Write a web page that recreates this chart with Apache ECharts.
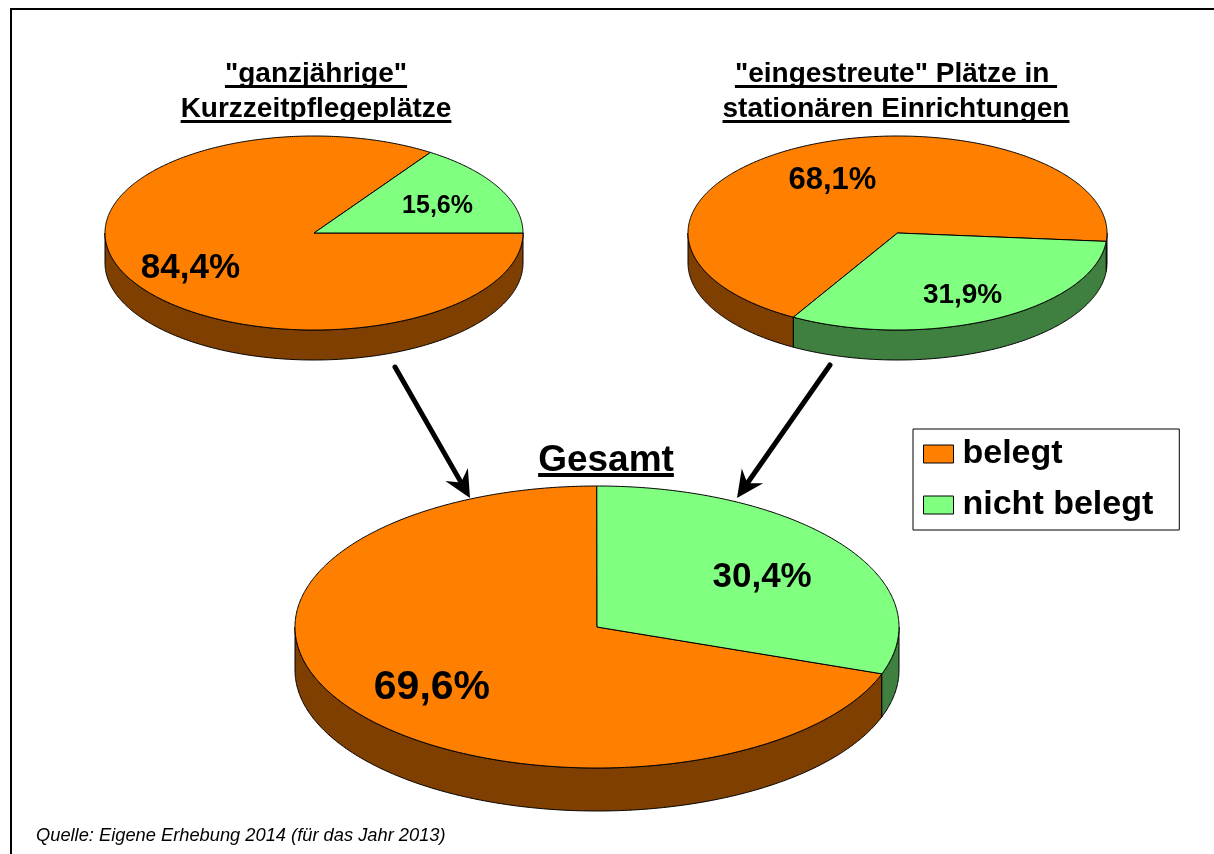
<!DOCTYPE html>
<html>
<head>
<meta charset="utf-8">
<title>Belegung Kurzzeitpflege</title>
<script src="https://cdn.jsdelivr.net/npm/echarts@6/dist/echarts.min.js"></script>
<style>
  html, body { margin: 0; padding: 0; background: #fff; }
  #chart { width: 1214px; height: 854px; }
</style>
</head>
<body>
<div id="chart"></div>
<script>
// data
const categories = ['belegt', 'nicht belegt'];
const pieNames = ['ganzjährige Kurzzeitpflegeplätze', 'eingestreute Plätze', 'Gesamt'];
const belegt = [84.4, 68.1, 69.6];
const nichtBelegt = [15.6, 31.9, 30.4];
const pieTitles = [
  ['"ganzjährige"', 'Kurzzeitpflegeplätze'],
  ['"eingestreute" Plätze in ', 'stationären Einrichtungen'],
  ['Gesamt']
];
const sourceText = 'Quelle: Eigene Erhebung 2014 (für das Jahr 2013)';

const FONT = '"Liberation Sans", Arial, sans-serif';
const seriesValues = [belegt, nichtBelegt];
const topColors = ['#FF8000', '#80FF80'];
const sideColors = ['#7F3F00', '#3F7F3F'];

// layout of the three tilted pies (start angle = first slice, drawn clockwise)
const pies = [
  { cx: 314, cy: 233, rx: 209, ry: 97, depth: 30, start: 0, fonts: [35, 25] },
  { cx: 897.5, cy: 233, rx: 209.5, ry: 97, depth: 30, start: 240.2, fonts: [31, 28] },
  { cx: 597, cy: 627, rx: 302, ry: 141, depth: 43, start: -19.4, fonts: [41, 35] }
];

function pt(p, t, dy) {
  const r = t * Math.PI / 180;
  return [p.cx + p.rx * Math.cos(r), p.cy - p.ry * Math.sin(r) + (dy || 0)];
}
function arc(p, a, b, dy) {
  const n = Math.max(2, Math.ceil(Math.abs(b - a) * 2));
  const out = [];
  for (let i = 0; i <= n; i++) out.push(pt(p, a + (b - a) * i / n, dy));
  return out;
}

function renderSlice(catIdx) {
  return function (params, api) {
    const pieIdx = params.dataIndex;
    const p = pies[pieIdx];
    let total = 0, before = 0;
    seriesValues.forEach((vals, c) => {
      total += vals[pieIdx];
      if (c < catIdx) before += vals[pieIdx];
    });
    const v = api.value(0);
    const a0 = p.start - 360 * before / total;
    const a1 = a0 - 360 * v / total;
    const children = [];
    // side wall, only the front half of the disc is visible
    for (let k = -2; k <= 2; k++) {
      const lo = Math.max(a1, -180 + 360 * k);
      const hi = Math.min(a0, 360 * k);
      if (hi - lo > 0.01) {
        const pts = arc(p, lo, hi, 0).concat(arc(p, hi, lo, p.depth));
        children.push({
          type: 'polygon',
          shape: { points: pts },
          style: { fill: sideColors[catIdx], stroke: '#000', lineWidth: 1 }
        });
      }
    }
    children.push({
      type: 'polygon',
      shape: { points: [[p.cx, p.cy]].concat(arc(p, a0, a1, 0)) },
      style: { fill: topColors[catIdx], stroke: '#000', lineWidth: 1, lineJoin: 'round' }
    });
    const mid = (a0 + a1) / 2 * Math.PI / 180;
    const fs = p.fonts[catIdx];
    children.push({
      type: 'text',
      z2: 10,
      x: p.cx + 0.67 * p.rx * Math.cos(mid),
      y: p.cy - 0.67 * p.ry * Math.sin(mid) + 0.15 * fs,
      style: {
        text: v.toFixed(1).replace('.', ',') + '%',
        fontFamily: FONT,
        fontWeight: 'bold',
        fontSize: fs,
        fill: '#000',
        align: 'center',
        verticalAlign: 'middle'
      }
    });
    return { type: 'group', children: children };
  };
}

// measure text so the underlines fit
const measureCtx = document.createElement('canvas').getContext('2d');
function textWidth(str, size, style) {
  measureCtx.font = (style || 'bold') + ' ' + size + 'px ' + FONT;
  return measureCtx.measureText(str).width;
}

const titleLayout = [
  { cx: 316, baselines: [80, 115], size: 28, thick: 3 },
  { cx: 896, baselines: [80, 115], size: 28, thick: 3 },
  { cx: 606, baselines: [468], size: 37, thick: 4 }
];

const graphics = [];
// frame (only top and left edge are inside the picture)
graphics.push({
  type: 'rect',
  shape: { x: 11, y: 9, width: 1300, height: 900 },
  style: { fill: null, stroke: '#000', lineWidth: 2 }
});

titleLayout.forEach((t, i) => {
  pieTitles[i].forEach((line, j) => {
    const base = t.baselines[j];
    const w = textWidth(line, t.size);
    graphics.push({
      type: 'text',
      x: t.cx,
      y: base - 0.2 * t.size,
      style: {
        text: line, fontFamily: FONT, fontWeight: 'bold', fontSize: t.size,
        fill: '#000', align: 'center', verticalAlign: 'middle'
      }
    });
    graphics.push({
      type: 'rect',
      shape: { x: t.cx - w / 2, y: base + 5, width: w, height: t.thick },
      style: { fill: '#000' }
    });
  });
});

// arrows from the two small pies to the total
const arrows = [
  { from: [395, 367], to: [470, 498] },
  { from: [830, 365], to: [737, 498] }
];
arrows.forEach(a => {
  const dx = a.to[0] - a.from[0], dy = a.to[1] - a.from[1];
  const len = Math.sqrt(dx * dx + dy * dy);
  const ux = dx / len, uy = dy / len, nx = -uy, ny = ux;
  const L = 27, W = 13, notch = 18;
  const T = a.to;
  const neck = [T[0] - notch * ux, T[1] - notch * uy];
  graphics.push({
    type: 'line',
    shape: { x1: a.from[0], y1: a.from[1], x2: neck[0], y2: neck[1] },
    style: { stroke: '#000', lineWidth: 5, lineCap: 'round' }
  });
  graphics.push({
    type: 'polygon',
    shape: {
      points: [
        T,
        [T[0] - L * ux + W * nx, T[1] - L * uy + W * ny],
        neck,
        [T[0] - L * ux - W * nx, T[1] - L * uy - W * ny]
      ]
    },
    style: { fill: '#000' }
  });
});

graphics.push({
  type: 'text',
  x: 36,
  y: 836,
  style: {
    text: sourceText, fontFamily: FONT, fontStyle: 'italic', fontSize: 18.3,
    fill: '#000', align: 'left', verticalAlign: 'middle'
  }
});

const chart = echarts.init(document.getElementById('chart'), null, { renderer: 'canvas' });
chart.setOption({
  animation: false,
  backgroundColor: '#fff',
  legend: {
    data: categories,
    orient: 'vertical',
    left: 913,
    top: 429,
    padding: [3, 26, 3, 10],
    itemGap: 7,
    itemWidth: 30,
    itemHeight: 18,
    icon: 'rect',
    borderColor: '#000',
    borderWidth: 1,
    selectedMode: false,
    itemStyle: { borderColor: '#000', borderWidth: 1 },
    textStyle: {
      fontFamily: FONT, fontSize: 34, fontWeight: 'bold', color: '#000',
      lineHeight: 34, padding: [10, 0, 0, 4]
    }
  },
  graphic: { elements: graphics },
  series: categories.map((name, c) => ({
    type: 'custom',
    name: name,
    coordinateSystem: 'none',
    silent: true,
    itemStyle: { color: topColors[c] },
    data: seriesValues[c].map((v, i) => ({ name: pieNames[i], value: [v] })),
    renderItem: renderSlice(c)
  }))
});
</script>
</body>
</html>
